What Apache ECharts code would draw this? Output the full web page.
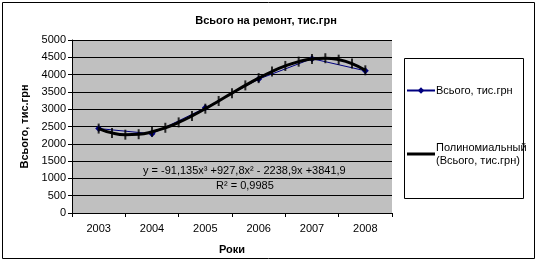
<!DOCTYPE html>
<html><head><meta charset="utf-8">
<script src="https://cdn.jsdelivr.net/npm/echarts@6/dist/echarts.min.js"></script>
<style>html,body{margin:0;padding:0;background:#fff}#c{width:538px;height:263px}</style>
</head><body><div id="c"></div>
<script>
var years = ['2003','2004','2005','2006','2007','2008'];
var dataX = [1,2,3,4,5,6];
var dataValues = [2440, 2290, 3040, 3870, 4460, 4110];
var trendX = [1,1.25,1.5,1.75,2,2.25,2.5,2.75,3,3.25,3.5,3.75,4,4.25,4.5,4.75,5,5.25,5.5,5.75,6];
var trendValues = [2440,2315,2264,2277,2346,2463,2619,2806,3015,3237,3464,3688,3898,4089,4250,4374,4451,4473,4431,4318,4124];
var yTicks = {min:0, max:5000, interval:500};
var seriesName = 'Всього, тис.грн';
var trendName = 'Полиномиальный\n(Всього, тис.грн)';
var titleText = 'Всього на ремонт, тис.грн';
var eqText = 'y = -91,135x³ +927,8x² - 2238,9x +3841,9';
var r2Text = 'R² = 0,9985';

var F = 'Liberation Sans, Arial, sans-serif';
var chart = echarts.init(document.getElementById('c'), null, {renderer:'canvas'});
chart.setOption({
  animation:false,
  backgroundColor:'#fff',
  title:{text:titleText, left:261, top:10, textAlign:'center',
    textStyle:{fontFamily:F, fontSize:11, fontWeight:'bold', color:'#000'}},
  grid:{left:72, top:40, right:146, bottom:50, show:true, backgroundColor:'#C0C0C0', borderWidth:0},
  xAxis:[{
    type:'category', data:years, boundaryGap:true, position:'bottom',
    axisLine:{lineStyle:{color:'#000', width:1}},
    axisTick:{show:true, interval:0, length:4, lineStyle:{color:'#000'}},
    axisLabel:{fontFamily:F, fontSize:11, color:'#000', margin:10},
    name:'Роки', nameLocation:'middle', nameGap:31,
    nameTextStyle:{fontFamily:F, fontSize:11, fontWeight:'bold', color:'#000'}
  },{
    type:'value', min:0.5, max:6.5, show:false
  }],
  yAxis:{
    type:'value', min:yTicks.min, max:yTicks.max, interval:yTicks.interval,
    axisLine:{show:true, lineStyle:{color:'#000'}},
    axisTick:{show:true, length:4, lineStyle:{color:'#000'}},
    axisLabel:{fontFamily:F, fontSize:11, color:'#000', margin:6, formatter:function(v){return String(v);}},
    splitLine:{show:true, lineStyle:{color:'#000', width:1}},
    name:'Всього, тис.грн', nameLocation:'middle', nameGap:38, nameRotate:90,
    nameTextStyle:{fontFamily:F, fontSize:11, fontWeight:'bold', color:'#000'}
  },
  legend:{
    orient:'vertical', left:406, top:84, itemGap:44, itemWidth:28, itemHeight:8,
    data:[{name:seriesName}, {name:trendName, icon:'path://M0,0H28V3H0Z'}],
    textStyle:{fontFamily:F, fontSize:11, color:'#000', padding:[0,0,0,-4], lineHeight:13},
    padding:0
  },
  graphic:[
    {type:'rect', shape:{x:404.5, y:58.5, width:119, height:140}, style:{fill:'#fff', stroke:'#000', lineWidth:1}, z:-1},
    {type:'rect', shape:{x:2.5, y:2.5, width:532, height:256}, style:{fill:'none', stroke:'#000', lineWidth:1}, z:-2},
    {type:'text', left:143, top:165, style:{text:eqText, fontFamily:F, fontSize:11, fill:'#000'}, z:100},
    {type:'text', left:216, top:180, style:{text:r2Text, fontFamily:F, fontSize:11, fill:'#000'}, z:100}
  ],
  series:[
    {name:seriesName, type:'line', xAxisIndex:1,
      data:dataX.map(function(x,i){return [x, dataValues[i]];}),
      symbol:'diamond', symbolSize:7,
      lineStyle:{color:'#000080', width:1}, itemStyle:{color:'#000080'}, z:2},
    {name:trendName, type:'line', xAxisIndex:1, smooth:true,
      data:trendX.map(function(x,i){return [x, trendValues[i]];}),
      symbol:'none', lineStyle:{color:'#000', width:3}, itemStyle:{color:'#000'}, z:3},
    {name:'ticks', type:'scatter', xAxisIndex:1,
      data:trendX.map(function(x,i){return [x, trendValues[i]];}),
      symbol:'rect', symbolSize:[2,10], itemStyle:{color:'#000'}, z:4, silent:true}
  ]
});
</script></body></html>
